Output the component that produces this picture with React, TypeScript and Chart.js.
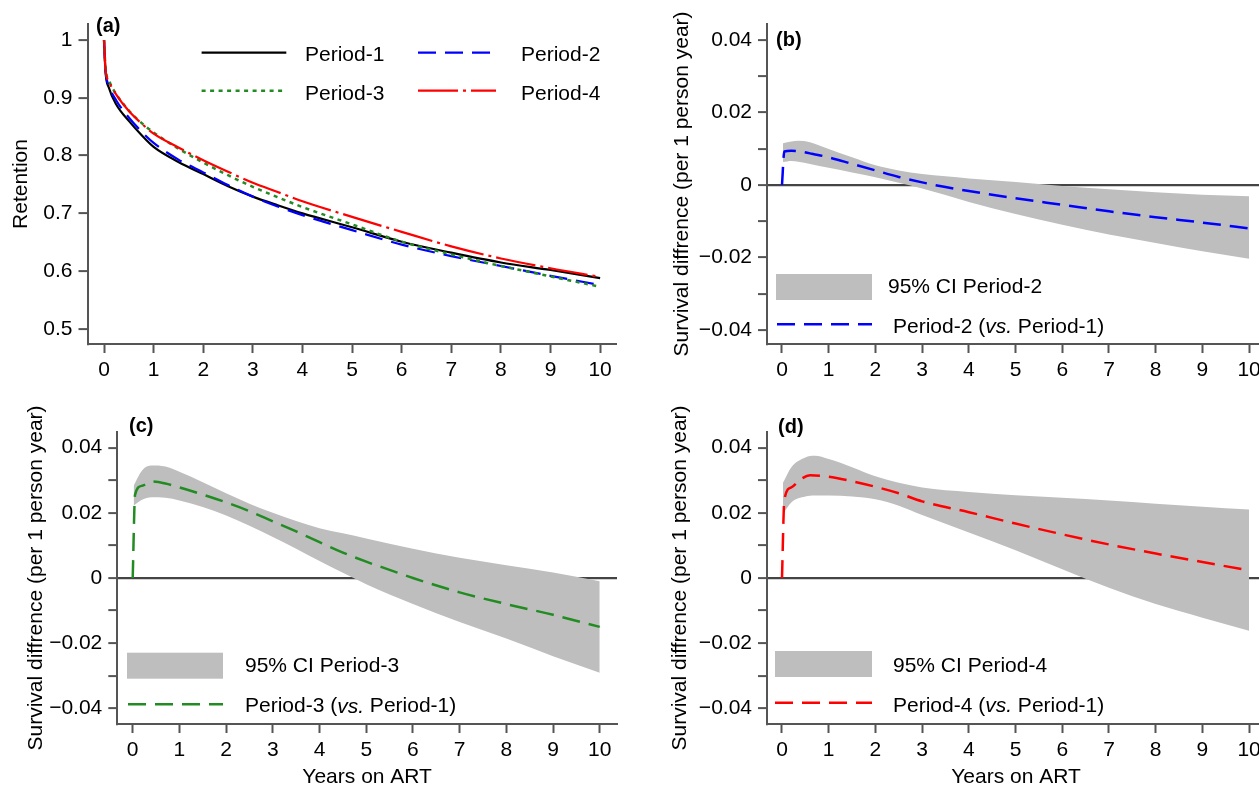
import React, { useEffect, useRef } from 'react';
import { Chart, registerables } from 'chart.js';

Chart.register(...registerables);

const FONT = '"Liberation Sans", Arial, Helvetica, sans-serif';
const AXIS_COLOR = '#555555';
const ZERO_COLOR = '#444444';
const BAND_COLOR = '#bebebe';

// ---------- Panel (a): retention ----------
const retentionYears = [0, 0.03, 0.1, 0.25, 0.5, 0.75, 1, 1.5, 2, 2.5, 3, 3.5, 4, 5, 6, 7, 8, 9, 10];
const period1Retention = [1, 0.945, 0.917, 0.888, 0.86, 0.836, 0.815, 0.789, 0.768, 0.747, 0.729, 0.714, 0.7, 0.676, 0.651, 0.632, 0.615, 0.602, 0.588];
const period2Retention = [1, 0.948, 0.921, 0.895, 0.866, 0.842, 0.822, 0.793, 0.771, 0.749, 0.729, 0.712, 0.697, 0.671, 0.646, 0.626, 0.609, 0.592, 0.576];
const period3Retention = [1, 0.952, 0.93, 0.906, 0.878, 0.857, 0.84, 0.812, 0.788, 0.766, 0.746, 0.728, 0.711, 0.681, 0.651, 0.629, 0.609, 0.591, 0.573];
const period4Retention = [1, 0.95, 0.928, 0.905, 0.877, 0.856, 0.838, 0.814, 0.792, 0.772, 0.753, 0.737, 0.721, 0.694, 0.668, 0.643, 0.622, 0.605, 0.59];
const retentionTicks = [0.5, 0.6, 0.7, 0.8, 0.9, 1];
const retentionTickLabels = ['0.5', '0.6', '0.7', '0.8', '0.9', '1'];

// ---------- Shared axes ----------
const yearTicks = [0, 1, 2, 3, 4, 5, 6, 7, 8, 9, 10];
const yearTickLabels = ['0', '1', '2', '3', '4', '5', '6', '7', '8', '9', '10'];
const diffTicks = [-0.04, -0.03, -0.02, -0.01, 0, 0.01, 0.02, 0.03, 0.04];
const diffTickLabels = ['\u22120.04', '', '\u22120.02', '', '0', '', '0.02', '', '0.04'];

// ---------- Panel (b): Period-2 vs Period-1 ----------
const p2Years = [0, 0.05, 0.2, 0.35, 0.6, 1, 1.5, 2, 2.5, 3, 3.5, 4, 5, 6, 7, 8, 9, 10];
const p2Diff = [0, 0.0092, 0.0094, 0.0093, 0.0087, 0.0076, 0.0058, 0.004, 0.0022, 0.0007, -0.0006, -0.0017, -0.0037, -0.0055, -0.0073, -0.0089, -0.0104, -0.012];
const p2BandYears = [0.02, 0.2, 0.35, 0.6, 1, 1.5, 2, 2.5, 3, 3.5, 4, 5, 6, 7, 8, 9, 10];
const p2Upper = [0.0115, 0.012, 0.0122, 0.0118, 0.0099, 0.0076, 0.0054, 0.004, 0.003, 0.0024, 0.0018, 0.0008, -0.0003, -0.0012, -0.002, -0.0027, -0.0031];
const p2Lower = [0.0063, 0.0066, 0.0064, 0.0058, 0.0047, 0.0034, 0.0021, 0.0006, -0.001, -0.0028, -0.0047, -0.008, -0.011, -0.0137, -0.016, -0.0183, -0.0204];

// ---------- Panel (c): Period-3 vs Period-1 ----------
const p3Years = [0, 0.05, 0.2, 0.4, 0.7, 1, 1.5, 2, 2.5, 3, 3.5, 4, 4.5, 5, 5.5, 6, 7, 8, 9, 10];
const p3Diff = [0, 0.0255, 0.0283, 0.0296, 0.029, 0.0278, 0.0256, 0.0232, 0.0205, 0.0174, 0.0143, 0.011, 0.0078, 0.005, 0.0025, 0, -0.0044, -0.008, -0.0113, -0.015];
const p3BandYears = [0.02, 0.2, 0.4, 0.7, 1, 1.5, 2, 2.5, 3, 3.5, 4, 4.5, 5, 6, 7, 8, 9, 10];
const p3Upper = [0.0283, 0.033, 0.0345, 0.0342, 0.0326, 0.0294, 0.026, 0.0228, 0.02, 0.0175, 0.0153, 0.0137, 0.0121, 0.009, 0.0062, 0.0039, 0.0017, -0.001];
const p3Lower = [0.0222, 0.024, 0.0248, 0.0246, 0.0238, 0.0218, 0.0192, 0.016, 0.0126, 0.009, 0.0052, 0.0016, -0.0019, -0.008, -0.0135, -0.0186, -0.024, -0.0291];

// ---------- Panel (d): Period-4 vs Period-1 ----------
const p4Years = [0, 0.05, 0.2, 0.4, 0.6, 1, 1.5, 2, 2.5, 3, 4, 5, 6, 7, 8, 9, 10];
const p4Diff = [0, 0.024, 0.0278, 0.0303, 0.0315, 0.0311, 0.0297, 0.028, 0.026, 0.0235, 0.0202, 0.0167, 0.0134, 0.0103, 0.0075, 0.0049, 0.0023];
const p4BandYears = [0.02, 0.2, 0.5, 0.7, 1, 1.5, 2, 2.5, 3, 4, 5, 6, 7, 8, 9, 10];
const p4Upper = [0.0292, 0.034, 0.037, 0.0375, 0.0365, 0.034, 0.0312, 0.0292, 0.0278, 0.0264, 0.0254, 0.0246, 0.0238, 0.0228, 0.0219, 0.021];
const p4Lower = [0.0197, 0.0232, 0.025, 0.0253, 0.0253, 0.025, 0.0242, 0.0222, 0.0193, 0.014, 0.0085, 0.0027, -0.003, -0.008, -0.0122, -0.0162];

const pts = (xs: number[], ys: number[]) => xs.map((x, i) => ({ x, y: ys[i] }));

function drawRich(ctx: CanvasRenderingContext2D, text: string, x: number, y: number, size: number) {
  const idx = text.indexOf('vs.');
  const normal = `${size}px ${FONT}`;
  const italic = `italic ${size}px ${FONT}`;
  if (idx < 0) {
    ctx.font = normal;
    ctx.fillText(text, x, y);
    return;
  }
  const parts: [string, string][] = [
    [text.slice(0, idx), normal],
    ['vs.', italic],
    [text.slice(idx + 3), normal],
  ];
  let cx = x;
  for (const [t, f] of parts) {
    ctx.font = f;
    ctx.fillText(t, cx, y);
    cx += ctx.measureText(t).width;
  }
}

const decorPlugin = {
  id: 'decor',
  afterDraw(chart: any, _args: any, opts: any) {
    const ctx: CanvasRenderingContext2D = chart.ctx;
    ctx.save();
    ctx.textBaseline = 'middle';
    ctx.textAlign = 'left';
    ctx.fillStyle = '#000';
    ctx.font = `bold 20px ${FONT}`;
    ctx.fillText(opts.letter, opts.letterX, opts.letterY);
    for (const it of opts.items) {
      const ds = chart.data.datasets[it.ds];
      if (it.kind === 'box') {
        ctx.fillStyle = ds.backgroundColor;
        ctx.fillRect(it.x1, it.y1, it.x2 - it.x1, it.y2 - it.y1);
      } else {
        ctx.beginPath();
        ctx.strokeStyle = ds.borderColor;
        ctx.lineWidth = ds.borderWidth;
        ctx.lineCap = 'butt';
        ctx.setLineDash(ds.borderDash || []);
        ctx.moveTo(it.x1, it.y);
        ctx.lineTo(it.x2, it.y);
        ctx.stroke();
        ctx.setLineDash([]);
      }
      ctx.fillStyle = '#000';
      drawRich(ctx, ds.label, it.tx, it.ty, 21);
    }
    ctx.restore();
  },
};

interface Spec {
  left: number; top: number; w: number; h: number;
  padTop: number; padRight: number; yAxisW: number; xAxisH: number;
  xMin: number; xMax: number; yMin: number; yMax: number;
  yTicks: number[]; yLabels: string[]; zeroLine: boolean;
  yTitle: string; yTitlePad: number;
  xTitle: string; xTitlePad: number;
  datasets: any[];
  letter: string; letterX: number; letterY: number;
  items: any[];
}

function lineDs(label: string, xs: number[], ys: number[], color: string, dash: number[], width: number, order: number) {
  return {
    label, data: pts(xs, ys), borderColor: color, backgroundColor: color,
    borderWidth: width, borderDash: dash, pointRadius: 0, fill: false,
    cubicInterpolationMode: 'monotone', borderCapStyle: 'butt', order,
  };
}

function bandDs(label: string, xs: number[], upper: number[], lower: number[]) {
  return [
    {
      label, data: pts(xs, upper), borderWidth: 0, borderColor: BAND_COLOR,
      backgroundColor: BAND_COLOR, pointRadius: 0, fill: '+1', cubicInterpolationMode: 'monotone',
    },
    {
      label: label + ' lower', data: pts(xs, lower), borderWidth: 0, borderColor: BAND_COLOR,
      backgroundColor: BAND_COLOR, pointRadius: 0, fill: false, cubicInterpolationMode: 'monotone',
    },
  ];
}

function buildConfig(s: Spec): any {
  const font = { family: FONT, size: 21 };
  return {
    type: 'line',
    data: { datasets: s.datasets },
    options: {
      responsive: false,
      animation: false,
      devicePixelRatio: 1,
      events: [],
      layout: { padding: { top: s.padTop, right: s.padRight, bottom: 0, left: 0 } },
      plugins: {
        legend: { display: false },
        tooltip: { enabled: false },
        decor: { letter: s.letter, letterX: s.letterX, letterY: s.letterY, items: s.items },
      },
      scales: {
        x: {
          type: 'linear',
          min: s.xMin,
          max: s.xMax,
          afterBuildTicks: (sc: any) => { sc.ticks = yearTicks.map((v) => ({ value: v })); },
          afterFit: (sc: any) => { sc.height = s.xAxisH; },
          grid: { drawOnChartArea: false, drawTicks: true, tickLength: 9, tickColor: AXIS_COLOR, tickWidth: 2 },
          border: { display: true, color: AXIS_COLOR, width: 2 },
          ticks: {
            color: '#000', font, padding: 5, autoSkip: false, maxRotation: 0, minRotation: 0,
            callback: (_v: any, i: number) => yearTickLabels[i],
          },
          title: {
            display: !!s.xTitle, text: s.xTitle, color: '#000', font,
            padding: { top: 0, bottom: s.xTitlePad },
          },
        },
        y: {
          type: 'linear',
          min: s.yMin,
          max: s.yMax,
          afterBuildTicks: (sc: any) => { sc.ticks = s.yTicks.map((v) => ({ value: v })); },
          afterFit: (sc: any) => { sc.width = s.yAxisW; },
          grid: {
            drawOnChartArea: s.zeroLine,
            drawTicks: true,
            tickLength: 9,
            tickColor: AXIS_COLOR,
            tickWidth: 2,
            color: (c: any) => (c.tick && Math.abs(c.tick.value) < 1e-9 ? ZERO_COLOR : 'rgba(0,0,0,0)'),
            lineWidth: 2.2,
          },
          border: { display: true, color: AXIS_COLOR, width: 2 },
          ticks: {
            color: '#000', font, padding: 6, autoSkip: false,
            callback: (_v: any, i: number) => s.yLabels[i],
          },
          title: {
            display: true, text: s.yTitle, color: '#000', font,
            padding: { top: s.yTitlePad, bottom: 0 },
          },
        },
      },
    },
    plugins: [decorPlugin],
  };
}

const DIFF_TITLE = 'Survival diffrence (per 1 person year)';

const specs: Spec[] = [
  {
    left: 0, top: 0, w: 630, h: 395,
    padTop: 24, padRight: 14, yAxisW: 87.5, xAxisH: 51,
    xMin: -0.333, xMax: 10.32, yMin: 0.474, yMax: 1.0277,
    yTicks: retentionTicks, yLabels: retentionTickLabels, zeroLine: false,
    yTitle: 'Retention', yTitlePad: 8.4, xTitle: '', xTitlePad: 0,
    datasets: [
      lineDs('Period-1', retentionYears, period1Retention, '#000000', [], 2.2, 4),
      lineDs('Period-2', retentionYears, period2Retention, '#0000ff', [18, 9], 2.2, 3),
      lineDs('Period-3', retentionYears, period3Retention, '#228b22', [4, 4.5], 2.5, 2),
      lineDs('Period-4', retentionYears, period4Retention, '#ff0000', [40, 5, 3, 5], 2.2, 1),
    ],
    letter: '(a)', letterX: 96, letterY: 26,
    items: [
      { ds: 0, kind: 'line', x1: 201.6, x2: 286.3, y: 52.7, tx: 305, ty: 55.5 },
      { ds: 1, kind: 'line', x1: 418, x2: 496, y: 52.7, tx: 521, ty: 55.5 },
      { ds: 2, kind: 'line', x1: 201.6, x2: 286.3, y: 90.7, tx: 305, ty: 94 },
      { ds: 3, kind: 'line', x1: 418, x2: 496, y: 90.7, tx: 521, ty: 94 },
    ],
  },
  {
    left: 630, top: 0, w: 660, h: 395,
    padTop: 24, padRight: 25, yAxisW: 137, xAxisH: 51,
    xMin: -0.321, xMax: 10.34, yMin: -0.0439, yMax: 0.0444,
    yTicks: diffTicks, yLabels: diffTickLabels, zeroLine: true,
    yTitle: DIFF_TITLE, yTitlePad: 39.4, xTitle: '', xTitlePad: 0,
    datasets: [
      lineDs('Period-2 (vs. Period-1)', p2Years, p2Diff, '#0000ff', [18, 9], 2.5, 0),
      ...bandDs('95% CI Period-2', p2BandYears, p2Upper, p2Lower),
    ],
    letter: '(b)', letterX: 146, letterY: 40,
    items: [
      { ds: 1, kind: 'box', x1: 146, x2: 242, y1: 274, y2: 300, tx: 258, ty: 287 },
      { ds: 0, kind: 'line', x1: 147, x2: 242, y: 324.3, tx: 263, ty: 327 },
    ],
  },
  {
    left: 0, top: 395, w: 630, h: 405,
    padTop: 37, padRight: 13, yAxisW: 117.3, xAxisH: 76,
    xMin: -0.33, xMax: 10.37, yMin: -0.0448, yMax: 0.0448,
    yTicks: diffTicks, yLabels: diffTickLabels, zeroLine: true,
    yTitle: DIFF_TITLE, yTitlePad: 23.4, xTitle: 'Years on ART', xTitlePad: 10.4,
    datasets: [
      lineDs('Period-3 (vs. Period-1)', p3Years, p3Diff, '#228b22', [18, 9], 2.5, 0),
      ...bandDs('95% CI Period-3', p3BandYears, p3Upper, p3Lower),
    ],
    letter: '(c)', letterX: 129, letterY: 31,
    items: [
      { ds: 1, kind: 'box', x1: 127, x2: 223, y1: 257.7, y2: 283.7, tx: 245, ty: 271.7 },
      { ds: 0, kind: 'line', x1: 128, x2: 223, y: 309.3, tx: 245, ty: 311.7 },
    ],
  },
  {
    left: 630, top: 395, w: 660, h: 405,
    padTop: 37, padRight: 25, yAxisW: 137, xAxisH: 76,
    xMin: -0.321, xMax: 10.34, yMin: -0.0448, yMax: 0.0448,
    yTicks: diffTicks, yLabels: diffTickLabels, zeroLine: true,
    yTitle: DIFF_TITLE, yTitlePad: 37.4, xTitle: 'Years on ART', xTitlePad: 10.4,
    datasets: [
      lineDs('Period-4 (vs. Period-1)', p4Years, p4Diff, '#ff0000', [18, 9], 2.5, 0),
      ...bandDs('95% CI Period-4', p4BandYears, p4Upper, p4Lower),
    ],
    letter: '(d)', letterX: 148, letterY: 32,
    items: [
      { ds: 1, kind: 'box', x1: 145, x2: 242, y1: 256, y2: 282, tx: 263, ty: 271 },
      { ds: 0, kind: 'line', x1: 145, x2: 242, y: 307.7, tx: 263, ty: 311 },
    ],
  },
];

function Panel({ spec }: { spec: Spec }) {
  const ref = useRef<HTMLCanvasElement | null>(null);
  useEffect(() => {
    if (!ref.current) return;
    const chart = new Chart(ref.current, buildConfig(spec));
    return () => chart.destroy();
  }, [spec]);
  return (
    <canvas
      ref={ref}
      width={spec.w}
      height={spec.h}
      style={{ position: 'absolute', left: spec.left, top: spec.top, width: spec.w, height: spec.h }}
    />
  );
}

export default function App() {
  return (
    <div
      style={{
        position: 'fixed', left: 0, top: 0, width: 1259, height: 786,
        overflow: 'hidden', background: '#ffffff',
      }}
    >
      {specs.map((s, i) => (
        <Panel key={i} spec={s} />
      ))}
    </div>
  );
}
